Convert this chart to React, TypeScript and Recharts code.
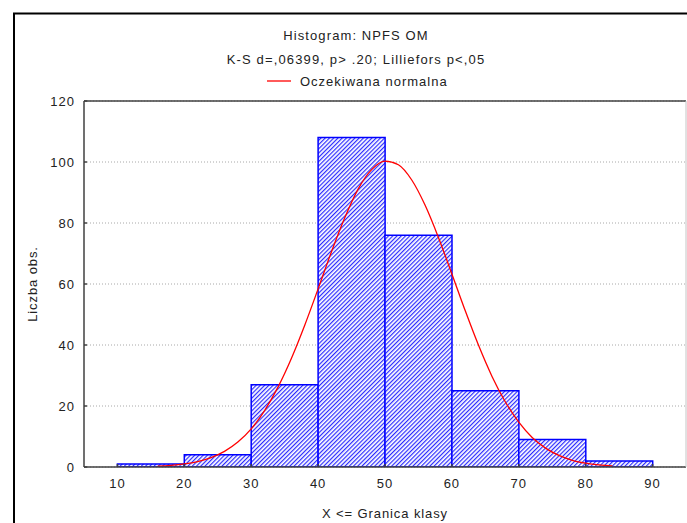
import React from "react";
import { ComposedChart, Bar, Line, XAxis, YAxis, CartesianGrid } from "recharts";

const binLabels = ["10-20", "20-30", "30-40", "40-50", "50-60", "60-70", "70-80", "80-90"];
const binCenters = [15, 25, 35, 45, 55, 65, 75, 85];
const binCounts = [1, 4, 27, 108, 76, 25, 9, 2];

const curveX = [16, 18, 20, 22, 24, 26, 28, 30, 32, 34, 36, 38, 40, 42, 44, 46, 48, 50, 52, 54, 56, 58, 60, 62, 64, 66, 68, 70, 72, 74, 76, 78, 80, 82, 84];
const curveY = [0.27, 0.53, 0.99, 1.78, 3.08, 5.12, 8.17, 12.5, 18.5, 26.2, 35.6, 46.5, 58.4, 70.6, 81.8, 91.2, 97.5, 100.3, 99.1, 94.1, 85.8, 75.2, 63.3, 51.2, 39.8, 29.7, 21.3, 14.7, 9.7, 6.2, 3.8, 2.2, 1.26, 0.68, 0.36];

const xTicks = [10, 20, 30, 40, 50, 60, 70, 80, 90];
const yTicks = [0, 20, 40, 60, 80, 100, 120];

const titleText = "Histogram: NPFS OM";
const subtitleText = "K-S d=,06399, p> .20; Lilliefors p<,05";
const legendText = "Oczekiwana normalna";
const xLabel = "X <= Granica klasy";
const yLabel = "Liczba obs.";

const binData = binLabels.map((b, i) => ({ bin: b, x: binCenters[i], count: binCounts[i] }));
const curveData = curveX.map((x, i) => ({ x, y: curveY[i] }));

const FONT = "'Liberation Sans', Arial, sans-serif";
const LS = 1;
const tickStyle = { fontSize: 13, fill: "#222", fontFamily: FONT, letterSpacing: LS };
const labelStyle = { fontSize: 13, fill: "#222", fontFamily: FONT, letterSpacing: 0.9 };

export default function App() {
  return (
    <div style={{ position: "absolute", left: 0, top: 0, width: 687, height: 523, background: "#fff", fontFamily: FONT }}>
      <ComposedChart
        width={687}
        height={523}
        data={binData}
        margin={{ top: 100, right: 0, left: 0, bottom: 0 }}
        barCategoryGap={0}
        barGap={0}
      >
        <defs>
          <pattern id="hatch" width="3" height="3" patternUnits="userSpaceOnUse" patternTransform="rotate(45)">
            <rect width="3" height="3" fill="#ffffff" />
            <line x1="0.6" y1="0" x2="0.6" y2="3" stroke="#2a2aff" strokeWidth="1.2" />
          </pattern>
        </defs>
        <CartesianGrid vertical={false} stroke="#a8a8a8" strokeDasharray="1 2" />
        <XAxis
          xAxisId="bins"
          dataKey="bin"
          type="category"
          hide
          padding={{ left: 33.4, right: 33.4 }}
        />
        <XAxis
          dataKey="x"
          type="number"
          domain={[5, 95]}
          ticks={xTicks}
          allowDataOverflow
          height={56}
          tickSize={-3}
          tickMargin={15}
          stroke="#404040"
          strokeWidth={1.5}
          tick={tickStyle}
          label={{ value: xLabel, position: "insideBottom", offset: 5, style: labelStyle }}
        />
        <XAxis
          xAxisId="top"
          orientation="top"
          type="number"
          dataKey="x"
          domain={[5, 95]}
          ticks={xTicks}
          allowDataOverflow
          height={1}
          tickSize={-3}
          tick={false}
          stroke="#404040"
          strokeWidth={1.5}
        />
        <YAxis
          type="number"
          domain={[0, 120]}
          ticks={yTicks}
          allowDataOverflow
          width={84}
          tickSize={-3}
          tickMargin={12}
          stroke="#404040"
          strokeWidth={1.5}
          tick={tickStyle}
          label={{ value: yLabel, angle: -90, position: "center", dx: -10, style: { ...labelStyle, textAnchor: "middle" } }}
        />
        <YAxis
          yAxisId="right"
          orientation="right"
          type="number"
          domain={[0, 120]}
          ticks={yTicks}
          allowDataOverflow
          width={1}
          tickSize={-3}
          tick={false}
          stroke="#c4c4c4"
        />
        <Bar
          xAxisId="bins"
          dataKey="count"
          fill="url(#hatch)"
          stroke="#0000ff"
          strokeWidth={1.5}
          isAnimationActive={false}
        />
        <Line
          data={curveData}
          dataKey="y"
          type="monotone"
          stroke="#ff0000"
          strokeWidth={1.3}
          dot={false}
          isAnimationActive={false}
        />
      </ComposedChart>
      <svg width={687} height={523} style={{ position: "absolute", left: 0, top: 0, pointerEvents: "none" }}>
        <line x1={13} y1={13.5} x2={687} y2={13.5} stroke="#000" strokeWidth={2} />
        <line x1={14} y1={13} x2={14} y2={523} stroke="#000" strokeWidth={2} />
        <text x={356} y={39.5} textAnchor="middle" fontSize={13} fill="#222" fontFamily={FONT} style={{ letterSpacing: 1.1 }}>{titleText}</text>
        <text x={356} y={63.5} textAnchor="middle" fontSize={13} fill="#222" fontFamily={FONT} style={{ letterSpacing: 1.15 }}>{subtitleText}</text>
        <line x1={267} y1={81} x2={291} y2={81} stroke="#ff0000" strokeWidth={1.3} />
        <text x={300} y={86} textAnchor="start" fontSize={13} fill="#222" fontFamily={FONT} style={{ letterSpacing: 1 }}>{legendText}</text>
      </svg>
    </div>
  );
}
